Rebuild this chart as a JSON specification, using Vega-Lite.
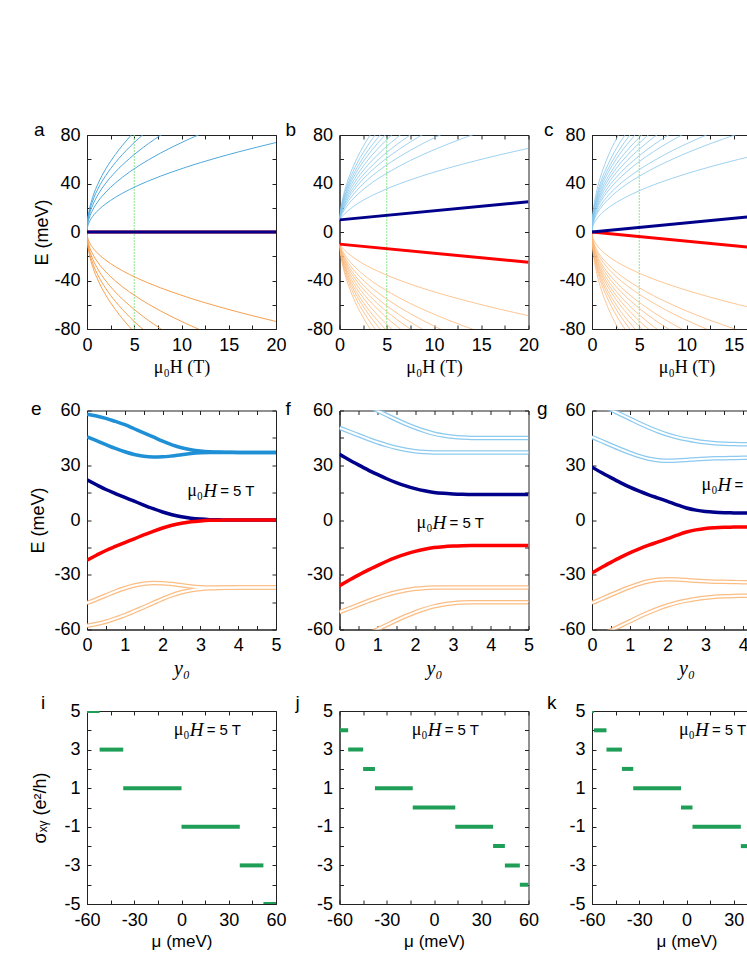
{
"$schema":"https://vega.github.io/schema/vega-lite/v6.json",
"background":"white",
"padding":{"left":29,"top":120,"right":5,"bottom":5},
"datasets":{
"ll":[
{"p":"a","n":0,"x":0,"u":0,"l":0},{"p":"a","n":0,"x":20,"u":0,"l":0},
{"p":"a","n":1,"x":0,"u":0,"l":0},{"p":"a","n":1,"x":0.05,"u":3.7,"l":-3.7},{"p":"a","n":1,"x":0.25,"u":8.3,"l":-8.3},{"p":"a","n":1,"x":0.6,"u":12.8,"l":-12.8},{"p":"a","n":1,"x":1.2,"u":18.1,"l":-18.1},{"p":"a","n":1,"x":2,"u":23.3,"l":-23.3},{"p":"a","n":1,"x":3,"u":28.6,"l":-28.6},{"p":"a","n":1,"x":4.5,"u":35,"l":-35},{"p":"a","n":1,"x":6.5,"u":42.1,"l":-42.1},{"p":"a","n":1,"x":9,"u":49.5,"l":-49.5},{"p":"a","n":1,"x":12,"u":57.2,"l":-57.2},{"p":"a","n":1,"x":16,"u":66,"l":-66},{"p":"a","n":1,"x":20,"u":73.8,"l":-73.8},
{"p":"a","n":2,"x":0,"u":0,"l":0},{"p":"a","n":2,"x":0.05,"u":5.2,"l":-5.2},{"p":"a","n":2,"x":0.25,"u":11.7,"l":-11.7},{"p":"a","n":2,"x":0.6,"u":18.1,"l":-18.1},{"p":"a","n":2,"x":1.2,"u":25.6,"l":-25.6},{"p":"a","n":2,"x":2,"u":33,"l":-33},{"p":"a","n":2,"x":3,"u":40.4,"l":-40.4},{"p":"a","n":2,"x":4.5,"u":49.5,"l":-49.5},{"p":"a","n":2,"x":6.5,"u":59.5,"l":-59.5},{"p":"a","n":2,"x":9,"u":70,"l":-70},{"p":"a","n":2,"x":12,"u":80.8,"l":-80.8},
{"p":"a","n":3,"x":0,"u":0,"l":0},{"p":"a","n":3,"x":0.05,"u":6.4,"l":-6.4},{"p":"a","n":3,"x":0.25,"u":14.3,"l":-14.3},{"p":"a","n":3,"x":0.6,"u":22.1,"l":-22.1},{"p":"a","n":3,"x":1.2,"u":31.3,"l":-31.3},{"p":"a","n":3,"x":2,"u":40.4,"l":-40.4},{"p":"a","n":3,"x":3,"u":49.5,"l":-49.5},{"p":"a","n":3,"x":4.5,"u":60.6,"l":-60.6},{"p":"a","n":3,"x":6.5,"u":72.9,"l":-72.9},{"p":"a","n":3,"x":9,"u":85.7,"l":-85.7},
{"p":"a","n":4,"x":0,"u":0,"l":0},{"p":"a","n":4,"x":0.05,"u":7.4,"l":-7.4},{"p":"a","n":4,"x":0.25,"u":16.5,"l":-16.5},{"p":"a","n":4,"x":0.6,"u":25.6,"l":-25.6},{"p":"a","n":4,"x":1.2,"u":36.2,"l":-36.2},{"p":"a","n":4,"x":2,"u":46.7,"l":-46.7},{"p":"a","n":4,"x":3,"u":57.2,"l":-57.2},{"p":"a","n":4,"x":4.5,"u":70,"l":-70},{"p":"a","n":4,"x":6.5,"u":84.1,"l":-84.1},
{"p":"a","n":5,"x":0,"u":0,"l":0},{"p":"a","n":5,"x":0.05,"u":8.3,"l":-8.3},{"p":"a","n":5,"x":0.25,"u":18.5,"l":-18.5},{"p":"a","n":5,"x":0.6,"u":28.6,"l":-28.6},{"p":"a","n":5,"x":1.2,"u":40.4,"l":-40.4},{"p":"a","n":5,"x":2,"u":52.2,"l":-52.2},{"p":"a","n":5,"x":3,"u":63.9,"l":-63.9},{"p":"a","n":5,"x":4.5,"u":78.3,"l":-78.3},{"p":"a","n":5,"x":6.5,"u":94.1,"l":-94.1},
{"p":"b","n":0,"x":0,"u":10,"l":-10},{"p":"b","n":0,"x":20,"u":25,"l":-25},
{"p":"b","n":1,"x":0,"u":10,"l":-10},{"p":"b","n":1,"x":0.1,"u":11.1,"l":-11.1},{"p":"b","n":1,"x":0.3,"u":13,"l":-13},{"p":"b","n":1,"x":0.6,"u":15.5,"l":-15.5},{"p":"b","n":1,"x":1,"u":18.2,"l":-18.2},{"p":"b","n":1,"x":1.5,"u":21.2,"l":-21.2},{"p":"b","n":1,"x":2.2,"u":24.8,"l":-24.8},{"p":"b","n":1,"x":3,"u":28.3,"l":-28.3},{"p":"b","n":1,"x":4,"u":32.1,"l":-32.1},{"p":"b","n":1,"x":5.5,"u":37.2,"l":-37.2},{"p":"b","n":1,"x":7.5,"u":43,"l":-43},{"p":"b","n":1,"x":10,"u":49.3,"l":-49.3},{"p":"b","n":1,"x":13,"u":55.9,"l":-55.9},{"p":"b","n":1,"x":16.5,"u":62.8,"l":-62.8},{"p":"b","n":1,"x":20,"u":69,"l":-69},
{"p":"b","n":2,"x":0,"u":10,"l":-10},{"p":"b","n":2,"x":0.1,"u":12,"l":-12},{"p":"b","n":2,"x":0.3,"u":15.3,"l":-15.3},{"p":"b","n":2,"x":0.6,"u":19.2,"l":-19.2},{"p":"b","n":2,"x":1,"u":23.5,"l":-23.5},{"p":"b","n":2,"x":1.5,"u":27.8,"l":-27.8},{"p":"b","n":2,"x":2.2,"u":33,"l":-33},{"p":"b","n":2,"x":3,"u":38.1,"l":-38.1},{"p":"b","n":2,"x":4,"u":43.6,"l":-43.6},{"p":"b","n":2,"x":5.5,"u":50.7,"l":-50.7},{"p":"b","n":2,"x":7.5,"u":59,"l":-59},{"p":"b","n":2,"x":10,"u":67.8,"l":-67.8},{"p":"b","n":2,"x":13,"u":77.1,"l":-77.1},{"p":"b","n":2,"x":16.5,"u":86.7,"l":-86.7},
{"p":"b","n":3,"x":0,"u":10,"l":-10},{"p":"b","n":3,"x":0.1,"u":12.6,"l":-12.6},{"p":"b","n":3,"x":0.3,"u":16.7,"l":-16.7},{"p":"b","n":3,"x":0.6,"u":21.3,"l":-21.3},{"p":"b","n":3,"x":1,"u":26.3,"l":-26.3},{"p":"b","n":3,"x":1.5,"u":31.4,"l":-31.4},{"p":"b","n":3,"x":2.2,"u":37.4,"l":-37.4},{"p":"b","n":3,"x":3,"u":43.3,"l":-43.3},{"p":"b","n":3,"x":4,"u":49.7,"l":-49.7},{"p":"b","n":3,"x":5.5,"u":57.9,"l":-57.9},{"p":"b","n":3,"x":7.5,"u":67.4,"l":-67.4},{"p":"b","n":3,"x":10,"u":77.6,"l":-77.6},{"p":"b","n":3,"x":13,"u":88.3,"l":-88.3},
{"p":"b","n":4,"x":0,"u":10,"l":-10},{"p":"b","n":4,"x":0.1,"u":13.1,"l":-13.1},{"p":"b","n":4,"x":0.3,"u":17.8,"l":-17.8},{"p":"b","n":4,"x":0.6,"u":23.1,"l":-23.1},{"p":"b","n":4,"x":1,"u":28.7,"l":-28.7},{"p":"b","n":4,"x":1.5,"u":34.4,"l":-34.4},{"p":"b","n":4,"x":2.2,"u":41.1,"l":-41.1},{"p":"b","n":4,"x":3,"u":47.6,"l":-47.6},{"p":"b","n":4,"x":4,"u":54.7,"l":-54.7},{"p":"b","n":4,"x":5.5,"u":63.8,"l":-63.8},{"p":"b","n":4,"x":7.5,"u":74.3,"l":-74.3},{"p":"b","n":4,"x":10,"u":85.6,"l":-85.6},
{"p":"b","n":5,"x":0,"u":10,"l":-10},{"p":"b","n":5,"x":0.1,"u":13.6,"l":-13.6},{"p":"b","n":5,"x":0.3,"u":18.8,"l":-18.8},{"p":"b","n":5,"x":0.6,"u":24.6,"l":-24.6},{"p":"b","n":5,"x":1,"u":30.7,"l":-30.7},{"p":"b","n":5,"x":1.5,"u":36.9,"l":-36.9},{"p":"b","n":5,"x":2.2,"u":44.2,"l":-44.2},{"p":"b","n":5,"x":3,"u":51.3,"l":-51.3},{"p":"b","n":5,"x":4,"u":58.9,"l":-58.9},{"p":"b","n":5,"x":5.5,"u":68.8,"l":-68.8},{"p":"b","n":5,"x":7.5,"u":80.1,"l":-80.1},{"p":"b","n":5,"x":10,"u":92.4,"l":-92.4},
{"p":"b","n":6,"x":0,"u":10,"l":-10},{"p":"b","n":6,"x":0.1,"u":14.1,"l":-14.1},{"p":"b","n":6,"x":0.3,"u":19.9,"l":-19.9},{"p":"b","n":6,"x":0.6,"u":26.2,"l":-26.2},{"p":"b","n":6,"x":1,"u":32.9,"l":-32.9},{"p":"b","n":6,"x":1.5,"u":39.6,"l":-39.6},{"p":"b","n":6,"x":2.2,"u":47.5,"l":-47.5},{"p":"b","n":6,"x":3,"u":55.2,"l":-55.2},{"p":"b","n":6,"x":4,"u":63.4,"l":-63.4},{"p":"b","n":6,"x":5.5,"u":74.1,"l":-74.1},{"p":"b","n":6,"x":7.5,"u":86.4,"l":-86.4},
{"p":"b","n":7,"x":0,"u":10,"l":-10},{"p":"b","n":7,"x":0.1,"u":14.6,"l":-14.6},{"p":"b","n":7,"x":0.3,"u":21,"l":-21},{"p":"b","n":7,"x":0.6,"u":28,"l":-28},{"p":"b","n":7,"x":1,"u":35.2,"l":-35.2},{"p":"b","n":7,"x":1.5,"u":42.5,"l":-42.5},{"p":"b","n":7,"x":2.2,"u":51,"l":-51},{"p":"b","n":7,"x":3,"u":59.3,"l":-59.3},{"p":"b","n":7,"x":4,"u":68.2,"l":-68.2},{"p":"b","n":7,"x":5.5,"u":79.8,"l":-79.8},{"p":"b","n":7,"x":7.5,"u":93,"l":-93},
{"p":"b","n":8,"x":0,"u":10,"l":-10},{"p":"b","n":8,"x":0.1,"u":15.2,"l":-15.2},{"p":"b","n":8,"x":0.3,"u":22.2,"l":-22.2},{"p":"b","n":8,"x":0.6,"u":29.7,"l":-29.7},{"p":"b","n":8,"x":1,"u":37.5,"l":-37.5},{"p":"b","n":8,"x":1.5,"u":45.3,"l":-45.3},{"p":"b","n":8,"x":2.2,"u":54.5,"l":-54.5},{"p":"b","n":8,"x":3,"u":63.3,"l":-63.3},{"p":"b","n":8,"x":4,"u":72.9,"l":-72.9},{"p":"b","n":8,"x":5.5,"u":85.3,"l":-85.3},
{"p":"b","n":9,"x":0,"u":10,"l":-10},{"p":"b","n":9,"x":0.1,"u":15.7,"l":-15.7},{"p":"b","n":9,"x":0.3,"u":23.2,"l":-23.2},{"p":"b","n":9,"x":0.6,"u":31.3,"l":-31.3},{"p":"b","n":9,"x":1,"u":39.6,"l":-39.6},{"p":"b","n":9,"x":1.5,"u":47.9,"l":-47.9},{"p":"b","n":9,"x":2.2,"u":57.6,"l":-57.6},{"p":"b","n":9,"x":3,"u":67,"l":-67},{"p":"b","n":9,"x":4,"u":77.2,"l":-77.2},{"p":"b","n":9,"x":5.5,"u":90.3,"l":-90.3},
{"p":"b","n":10,"x":0,"u":10,"l":-10},{"p":"b","n":10,"x":0.1,"u":16.3,"l":-16.3},{"p":"b","n":10,"x":0.3,"u":24.5,"l":-24.5},{"p":"b","n":10,"x":0.6,"u":33.2,"l":-33.2},{"p":"b","n":10,"x":1,"u":42.1,"l":-42.1},{"p":"b","n":10,"x":1.5,"u":51.1,"l":-51.1},{"p":"b","n":10,"x":2.2,"u":61.5,"l":-61.5},{"p":"b","n":10,"x":3,"u":71.5,"l":-71.5},{"p":"b","n":10,"x":4,"u":82.4,"l":-82.4},
{"p":"b","n":11,"x":0,"u":10,"l":-10},{"p":"b","n":11,"x":0.1,"u":17.2,"l":-17.2},{"p":"b","n":11,"x":0.3,"u":26.1,"l":-26.1},{"p":"b","n":11,"x":0.6,"u":35.6,"l":-35.6},{"p":"b","n":11,"x":1,"u":45.2,"l":-45.2},{"p":"b","n":11,"x":1.5,"u":54.9,"l":-54.9},{"p":"b","n":11,"x":2.2,"u":66.2,"l":-66.2},{"p":"b","n":11,"x":3,"u":77,"l":-77},{"p":"b","n":11,"x":4,"u":88.7,"l":-88.7},
{"p":"c","n":0,"x":0,"u":0,"l":0},{"p":"c","n":0,"x":20,"u":15,"l":-15},
{"p":"c","n":1,"x":0,"u":0,"l":0},{"p":"c","n":1,"x":0.05,"u":3.4,"l":-3.4},{"p":"c","n":1,"x":0.2,"u":6.8,"l":-6.8},{"p":"c","n":1,"x":0.5,"u":10.7,"l":-10.7},{"p":"c","n":1,"x":1,"u":15.2,"l":-15.2},{"p":"c","n":1,"x":1.7,"u":19.8,"l":-19.8},{"p":"c","n":1,"x":2.6,"u":24.5,"l":-24.5},{"p":"c","n":1,"x":3.7,"u":29.2,"l":-29.2},{"p":"c","n":1,"x":5,"u":34,"l":-34},{"p":"c","n":1,"x":6.5,"u":38.8,"l":-38.8},{"p":"c","n":1,"x":8.5,"u":44.3,"l":-44.3},{"p":"c","n":1,"x":11,"u":50.4,"l":-50.4},{"p":"c","n":1,"x":14,"u":56.9,"l":-56.9},{"p":"c","n":1,"x":17,"u":62.7,"l":-62.7},{"p":"c","n":1,"x":20,"u":68,"l":-68},
{"p":"c","n":2,"x":0,"u":0,"l":0},{"p":"c","n":2,"x":0.05,"u":4.6,"l":-4.6},{"p":"c","n":2,"x":0.2,"u":9.2,"l":-9.2},{"p":"c","n":2,"x":0.5,"u":14.6,"l":-14.6},{"p":"c","n":2,"x":1,"u":20.6,"l":-20.6},{"p":"c","n":2,"x":1.7,"u":26.8,"l":-26.8},{"p":"c","n":2,"x":2.6,"u":33.2,"l":-33.2},{"p":"c","n":2,"x":3.7,"u":39.6,"l":-39.6},{"p":"c","n":2,"x":5,"u":46,"l":-46},{"p":"c","n":2,"x":6.5,"u":52.5,"l":-52.5},{"p":"c","n":2,"x":8.5,"u":60,"l":-60},{"p":"c","n":2,"x":11,"u":68.3,"l":-68.3},{"p":"c","n":2,"x":14,"u":77,"l":-77},{"p":"c","n":2,"x":17,"u":84.9,"l":-84.9},
{"p":"c","n":3,"x":0,"u":0,"l":0},{"p":"c","n":3,"x":0.05,"u":5.1,"l":-5.1},{"p":"c","n":3,"x":0.2,"u":10.3,"l":-10.3},{"p":"c","n":3,"x":0.5,"u":16.3,"l":-16.3},{"p":"c","n":3,"x":1,"u":23,"l":-23},{"p":"c","n":3,"x":1.7,"u":30,"l":-30},{"p":"c","n":3,"x":2.6,"u":37.1,"l":-37.1},{"p":"c","n":3,"x":3.7,"u":44.2,"l":-44.2},{"p":"c","n":3,"x":5,"u":51.4,"l":-51.4},{"p":"c","n":3,"x":6.5,"u":58.6,"l":-58.6},{"p":"c","n":3,"x":8.5,"u":67.1,"l":-67.1},{"p":"c","n":3,"x":11,"u":76.3,"l":-76.3},{"p":"c","n":3,"x":14,"u":86.1,"l":-86.1},
{"p":"c","n":4,"x":0,"u":0,"l":0},{"p":"c","n":4,"x":0.05,"u":5.8,"l":-5.8},{"p":"c","n":4,"x":0.2,"u":11.6,"l":-11.6},{"p":"c","n":4,"x":0.5,"u":18.4,"l":-18.4},{"p":"c","n":4,"x":1,"u":26,"l":-26},{"p":"c","n":4,"x":1.7,"u":33.8,"l":-33.8},{"p":"c","n":4,"x":2.6,"u":41.9,"l":-41.9},{"p":"c","n":4,"x":3.7,"u":49.9,"l":-49.9},{"p":"c","n":4,"x":5,"u":58.1,"l":-58.1},{"p":"c","n":4,"x":6.5,"u":66.2,"l":-66.2},{"p":"c","n":4,"x":8.5,"u":75.7,"l":-75.7},{"p":"c","n":4,"x":11,"u":86.1,"l":-86.1},
{"p":"c","n":5,"x":0,"u":0,"l":0},{"p":"c","n":5,"x":0.05,"u":6.3,"l":-6.3},{"p":"c","n":5,"x":0.2,"u":12.6,"l":-12.6},{"p":"c","n":5,"x":0.5,"u":19.9,"l":-19.9},{"p":"c","n":5,"x":1,"u":28.1,"l":-28.1},{"p":"c","n":5,"x":1.7,"u":36.7,"l":-36.7},{"p":"c","n":5,"x":2.6,"u":45.4,"l":-45.4},{"p":"c","n":5,"x":3.7,"u":54.1,"l":-54.1},{"p":"c","n":5,"x":5,"u":62.9,"l":-62.9},{"p":"c","n":5,"x":6.5,"u":71.8,"l":-71.8},{"p":"c","n":5,"x":8.5,"u":82.1,"l":-82.1},
{"p":"c","n":6,"x":0,"u":0,"l":0},{"p":"c","n":6,"x":0.05,"u":6.8,"l":-6.8},{"p":"c","n":6,"x":0.2,"u":13.7,"l":-13.7},{"p":"c","n":6,"x":0.5,"u":21.6,"l":-21.6},{"p":"c","n":6,"x":1,"u":30.6,"l":-30.6},{"p":"c","n":6,"x":1.7,"u":39.8,"l":-39.8},{"p":"c","n":6,"x":2.6,"u":49.3,"l":-49.3},{"p":"c","n":6,"x":3.7,"u":58.8,"l":-58.8},{"p":"c","n":6,"x":5,"u":68.3,"l":-68.3},{"p":"c","n":6,"x":6.5,"u":77.9,"l":-77.9},{"p":"c","n":6,"x":8.5,"u":89.1,"l":-89.1},
{"p":"c","n":7,"x":0,"u":0,"l":0},{"p":"c","n":7,"x":0.05,"u":7.3,"l":-7.3},{"p":"c","n":7,"x":0.2,"u":14.7,"l":-14.7},{"p":"c","n":7,"x":0.5,"u":23.2,"l":-23.2},{"p":"c","n":7,"x":1,"u":32.8,"l":-32.8},{"p":"c","n":7,"x":1.7,"u":42.7,"l":-42.7},{"p":"c","n":7,"x":2.6,"u":52.8,"l":-52.8},{"p":"c","n":7,"x":3.7,"u":63,"l":-63},{"p":"c","n":7,"x":5,"u":73.3,"l":-73.3},{"p":"c","n":7,"x":6.5,"u":83.6,"l":-83.6},
{"p":"c","n":8,"x":0,"u":0,"l":0},{"p":"c","n":8,"x":0.05,"u":7.8,"l":-7.8},{"p":"c","n":8,"x":0.2,"u":15.6,"l":-15.6},{"p":"c","n":8,"x":0.5,"u":24.7,"l":-24.7},{"p":"c","n":8,"x":1,"u":34.9,"l":-34.9},{"p":"c","n":8,"x":1.7,"u":45.5,"l":-45.5},{"p":"c","n":8,"x":2.6,"u":56.3,"l":-56.3},{"p":"c","n":8,"x":3.7,"u":67.1,"l":-67.1},{"p":"c","n":8,"x":5,"u":78,"l":-78},{"p":"c","n":8,"x":6.5,"u":88.9,"l":-88.9},
{"p":"c","n":9,"x":0,"u":0,"l":0},{"p":"c","n":9,"x":0.05,"u":8.4,"l":-8.4},{"p":"c","n":9,"x":0.2,"u":16.8,"l":-16.8},{"p":"c","n":9,"x":0.5,"u":26.5,"l":-26.5},{"p":"c","n":9,"x":1,"u":37.5,"l":-37.5},{"p":"c","n":9,"x":1.7,"u":48.9,"l":-48.9},{"p":"c","n":9,"x":2.6,"u":60.5,"l":-60.5},{"p":"c","n":9,"x":3.7,"u":72.2,"l":-72.2},{"p":"c","n":9,"x":5,"u":83.9,"l":-83.9},
{"p":"c","n":10,"x":0,"u":0,"l":0},{"p":"c","n":10,"x":0.05,"u":8.9,"l":-8.9},{"p":"c","n":10,"x":0.2,"u":17.8,"l":-17.8},{"p":"c","n":10,"x":0.5,"u":28.2,"l":-28.2},{"p":"c","n":10,"x":1,"u":39.9,"l":-39.9},{"p":"c","n":10,"x":1.7,"u":52,"l":-52},{"p":"c","n":10,"x":2.6,"u":64.3,"l":-64.3},{"p":"c","n":10,"x":3.7,"u":76.8,"l":-76.8},{"p":"c","n":10,"x":5,"u":89.2,"l":-89.2},
{"p":"c","n":11,"x":0,"u":0,"l":0},{"p":"c","n":11,"x":0.05,"u":9.6,"l":-9.6},{"p":"c","n":11,"x":0.2,"u":19.2,"l":-19.2},{"p":"c","n":11,"x":0.5,"u":30.3,"l":-30.3},{"p":"c","n":11,"x":1,"u":42.8,"l":-42.8},{"p":"c","n":11,"x":1.7,"u":55.8,"l":-55.8},{"p":"c","n":11,"x":2.6,"u":69.1,"l":-69.1},{"p":"c","n":11,"x":3.7,"u":82.4,"l":-82.4},
{"p":"c","n":12,"x":0,"u":0,"l":0},{"p":"c","n":12,"x":0.05,"u":10.7,"l":-10.7},{"p":"c","n":12,"x":0.2,"u":21.4,"l":-21.4},{"p":"c","n":12,"x":0.5,"u":33.9,"l":-33.9},{"p":"c","n":12,"x":1,"u":47.9,"l":-47.9},{"p":"c","n":12,"x":1.7,"u":62.5,"l":-62.5},{"p":"c","n":12,"x":2.6,"u":77.2,"l":-77.2},{"p":"c","n":12,"x":3.7,"u":92.1,"l":-92.1}
],
"edge":[
{"p":"e","x":0,"u1":58,"u2":45.5,"db":22,"rd":-22,"o1":-45.5,"o2":-58},
{"p":"e","x":0.25,"u1":57,"u2":43.5,"db":19.3,"rd":-19.3,"o1":-43.5,"o2":-57},
{"p":"e","x":0.5,"u1":55.7,"u2":41.3,"db":16.7,"rd":-16.7,"o1":-41.3,"o2":-55.7},
{"p":"e","x":0.75,"u1":54,"u2":39.2,"db":14.5,"rd":-14.5,"o1":-39.2,"o2":-54},
{"p":"e","x":1,"u1":52.2,"u2":37.4,"db":12.4,"rd":-12.4,"o1":-37.4,"o2":-52.2},
{"p":"e","x":1.25,"u1":50,"u2":35.9,"db":10.3,"rd":-10.3,"o1":-35.9,"o2":-50},
{"p":"e","x":1.5,"u1":47.8,"u2":34.9,"db":8.2,"rd":-8.2,"o1":-34.9,"o2":-47.8},
{"p":"e","x":1.75,"u1":45.5,"u2":34.5,"db":6.2,"rd":-6.2,"o1":-34.5,"o2":-45.5},
{"p":"e","x":2,"u1":43.2,"u2":34.6,"db":4.4,"rd":-4.4,"o1":-34.6,"o2":-43.2},
{"p":"e","x":2.25,"u1":41.2,"u2":35.1,"db":2.9,"rd":-2.9,"o1":-35.1,"o2":-41.2},
{"p":"e","x":2.5,"u1":39.6,"u2":35.8,"db":1.8,"rd":-1.8,"o1":-35.8,"o2":-39.6},
{"p":"e","x":2.75,"u1":38.5,"u2":36.4,"db":1,"rd":-1,"o1":-36.4,"o2":-38.5},
{"p":"e","x":3,"u1":37.8,"u2":36.8,"db":0.5,"rd":-0.5,"o1":-36.8,"o2":-37.8},
{"p":"e","x":3.25,"u1":37.4,"u2":37,"db":0.2,"rd":-0.2,"o1":-37,"o2":-37.4},
{"p":"e","x":3.5,"u1":37.2,"u2":37,"db":0.1,"rd":-0.1,"o1":-37,"o2":-37.2},
{"p":"e","x":3.75,"u1":37.1,"u2":37,"db":0,"rd":0,"o1":-37,"o2":-37.1},
{"p":"e","x":4,"u1":37,"u2":37,"db":0,"rd":0,"o1":-37,"o2":-37},
{"p":"e","x":4.25,"u1":37,"u2":37,"db":0,"rd":0,"o1":-37,"o2":-37},
{"p":"e","x":4.5,"u1":37,"u2":37,"db":0,"rd":0,"o1":-37,"o2":-37},
{"p":"e","x":4.75,"u1":37,"u2":37,"db":0,"rd":0,"o1":-37,"o2":-37},
{"p":"e","x":5,"u1":37,"u2":37,"db":0,"rd":0,"o1":-37,"o2":-37},
{"p":"f","x":0,"u1":70,"u2":50.5,"db":36,"rd":-36,"o1":-50.5,"o2":-70},
{"p":"f","x":0.25,"u1":67.5,"u2":48.5,"db":33,"rd":-33,"o1":-48.5,"o2":-67.5},
{"p":"f","x":0.5,"u1":65,"u2":46.5,"db":30.2,"rd":-30.2,"o1":-46.5,"o2":-65},
{"p":"f","x":0.75,"u1":62.5,"u2":44.5,"db":27.5,"rd":-27.5,"o1":-44.5,"o2":-62.5},
{"p":"f","x":1,"u1":60,"u2":42.6,"db":25,"rd":-25,"o1":-42.6,"o2":-60},
{"p":"f","x":1.25,"u1":57.5,"u2":41,"db":22.6,"rd":-22.6,"o1":-41,"o2":-57.5},
{"p":"f","x":1.5,"u1":55,"u2":39.6,"db":20.5,"rd":-20.5,"o1":-39.6,"o2":-55},
{"p":"f","x":1.75,"u1":52.7,"u2":38.5,"db":18.7,"rd":-18.7,"o1":-38.5,"o2":-52.7},
{"p":"f","x":2,"u1":50.6,"u2":37.7,"db":17.2,"rd":-17.2,"o1":-37.7,"o2":-50.6},
{"p":"f","x":2.25,"u1":48.8,"u2":37.2,"db":16,"rd":-16,"o1":-37.2,"o2":-48.8},
{"p":"f","x":2.5,"u1":47.3,"u2":37,"db":15.1,"rd":-15.1,"o1":-37,"o2":-47.3},
{"p":"f","x":2.75,"u1":46.3,"u2":37,"db":14.6,"rd":-14.6,"o1":-37,"o2":-46.3},
{"p":"f","x":3,"u1":45.6,"u2":37,"db":14.3,"rd":-14.3,"o1":-37,"o2":-45.6},
{"p":"f","x":3.25,"u1":45.2,"u2":37,"db":14.1,"rd":-14.1,"o1":-37,"o2":-45.2},
{"p":"f","x":3.5,"u1":45,"u2":37,"db":14,"rd":-14,"o1":-37,"o2":-45},
{"p":"f","x":3.75,"u1":45,"u2":37,"db":14,"rd":-14,"o1":-37,"o2":-45},
{"p":"f","x":4,"u1":45,"u2":37,"db":14,"rd":-14,"o1":-37,"o2":-45},
{"p":"f","x":4.25,"u1":45,"u2":37,"db":14,"rd":-14,"o1":-37,"o2":-45},
{"p":"f","x":4.5,"u1":45,"u2":37,"db":14,"rd":-14,"o1":-37,"o2":-45},
{"p":"f","x":4.75,"u1":45,"u2":37,"db":14,"rd":-14,"o1":-37,"o2":-45},
{"p":"f","x":5,"u1":45,"u2":37,"db":14,"rd":-14,"o1":-37,"o2":-45},
{"p":"g","x":0,"u1":66,"u2":45.5,"db":29,"rd":-29,"o1":-45.5,"o2":-66},
{"p":"g","x":0.25,"u1":63,"u2":43.3,"db":26,"rd":-26,"o1":-43.3,"o2":-63},
{"p":"g","x":0.5,"u1":60.5,"u2":41,"db":23.2,"rd":-23.2,"o1":-41,"o2":-60.5},
{"p":"g","x":0.75,"u1":58,"u2":38.8,"db":20.5,"rd":-20.5,"o1":-38.8,"o2":-58},
{"p":"g","x":1,"u1":55.5,"u2":36.8,"db":18,"rd":-18,"o1":-36.8,"o2":-55.5},
{"p":"g","x":1.25,"u1":53,"u2":35,"db":15.8,"rd":-15.8,"o1":-35,"o2":-53},
{"p":"g","x":1.5,"u1":50.7,"u2":33.6,"db":13.8,"rd":-13.8,"o1":-33.6,"o2":-50.7},
{"p":"g","x":1.75,"u1":48.6,"u2":32.8,"db":12,"rd":-12,"o1":-32.8,"o2":-48.6},
{"p":"g","x":2,"u1":46.8,"u2":32.5,"db":10.2,"rd":-10.2,"o1":-32.5,"o2":-46.8},
{"p":"g","x":2.25,"u1":45.3,"u2":32.6,"db":8.3,"rd":-8.3,"o1":-32.6,"o2":-45.3},
{"p":"g","x":2.5,"u1":44.2,"u2":32.9,"db":6.6,"rd":-6.6,"o1":-32.9,"o2":-44.2},
{"p":"g","x":2.75,"u1":43.3,"u2":33.3,"db":5.4,"rd":-5.4,"o1":-33.3,"o2":-43.3},
{"p":"g","x":3,"u1":42.6,"u2":33.6,"db":4.6,"rd":-4.6,"o1":-33.6,"o2":-42.6},
{"p":"g","x":3.25,"u1":42.1,"u2":33.8,"db":4.2,"rd":-4.2,"o1":-33.8,"o2":-42.1},
{"p":"g","x":3.5,"u1":41.8,"u2":33.9,"db":4,"rd":-4,"o1":-33.9,"o2":-41.8},
{"p":"g","x":3.75,"u1":41.6,"u2":34,"db":3.9,"rd":-3.9,"o1":-34,"o2":-41.6},
{"p":"g","x":4,"u1":41.5,"u2":34.1,"db":3.8,"rd":-3.8,"o1":-34.1,"o2":-41.5},
{"p":"g","x":4.25,"u1":41.4,"u2":34.1,"db":3.8,"rd":-3.8,"o1":-34.1,"o2":-41.4},
{"p":"g","x":4.5,"u1":41.3,"u2":34.2,"db":3.8,"rd":-3.8,"o1":-34.2,"o2":-41.3},
{"p":"g","x":4.75,"u1":41.2,"u2":34.2,"db":3.8,"rd":-3.8,"o1":-34.2,"o2":-41.2},
{"p":"g","x":5,"u1":41.2,"u2":34.2,"db":3.8,"rd":-3.8,"o1":-34.2,"o2":-41.2}
],
"hall":[
{"p":"i","v":5,"x1":-60,"x2":-52},{"p":"i","v":3,"x1":-52,"x2":-37},{"p":"i","v":1,"x1":-37,"x2":0},{"p":"i","v":-1,"x1":0,"x2":37},{"p":"i","v":-3,"x1":37,"x2":52},{"p":"i","v":-5,"x1":52,"x2":60},
{"p":"j","v":4,"x1":-60,"x2":-54.5},{"p":"j","v":3,"x1":-54.5,"x2":-45},{"p":"j","v":2,"x1":-45,"x2":-37.5},{"p":"j","v":1,"x1":-37.5,"x2":-13.5},{"p":"j","v":0,"x1":-13.5,"x2":13.5},{"p":"j","v":-1,"x1":13.5,"x2":37.5},{"p":"j","v":-2,"x1":37.5,"x2":45},{"p":"j","v":-3,"x1":45,"x2":54.5},{"p":"j","v":-4,"x1":54.5,"x2":60},
{"p":"k","v":5,"x1":-60,"x2":-58.7},{"p":"k","v":4,"x1":-58.7,"x2":-50.8},{"p":"k","v":3,"x1":-50.8,"x2":-41},{"p":"k","v":2,"x1":-41,"x2":-33.8},{"p":"k","v":1,"x1":-33.8,"x2":-3.5},{"p":"k","v":0,"x1":-3.5,"x2":3.8},{"p":"k","v":-1,"x1":3.8,"x2":34.5},{"p":"k","v":-2,"x1":34.5,"x2":41},{"p":"k","v":-3,"x1":41,"x2":50.8},{"p":"k","v":-4,"x1":50.8,"x2":58.7},{"p":"k","v":-5,"x1":58.7,"x2":60}
]
},
"columns":3,
"bounds":"flush",
"align":"each",
"spacing":{"row":81.5,"column":63.5},
"concat":[
{"width":189,"height":194,"title":{"text":"a","dx":-53,"offset":-14},
 "data":{"name":"ll"},
 "layer":[
  {"encoding":{"x":{"field":"x","type":"quantitative","scale":{"domain":[0,20],"nice":false,"zero":false},"axis":{"orient":"bottom","values":[0,2.5,5,7.5,10,12.5,15,17.5,20],"labelExpr":"datum.value % 5 === 0 ? toString(datum.value) : ''","title":"μ₀H (T)","titleFont":"Liberation Serif","titleFontSize":18}},
    "y":{"field":"e","type":"quantitative","scale":{"domain":[-80,80],"nice":false,"zero":false},"axis":{"orient":"left","values":[-80,-60,-40,-20,0,20,40,60,80],"labelExpr":"datum.value % 40 === 0 ? toString(datum.value) : ''","title":"E (meV)","titlePadding":2}}},
   "layer":[
    {"transform":[{"filter":"datum.p === 'a' && datum.n === 1 && datum.u === 0"},{"fold":["u"],"as":["s","e"]}],"mark":{"type":"rule","color":"#8ee68e","strokeWidth":1,"strokeDash":[2,1]},"encoding":{"x":{"datum":5,"type":"quantitative"},"y":{"datum":-80,"type":"quantitative"},"y2":{"datum":80}}},
    {"transform":[{"filter":"datum.p === 'a' && datum.n > 0"},{"fold":["l"],"as":["s","e"]}],"mark":{"type":"line","color":"#f7a04f","strokeWidth":1,"clip":true,"interpolate":"monotone"},"encoding":{"detail":{"field":"n","type":"nominal"}}},
    {"transform":[{"filter":"datum.p === 'a' && datum.n > 0"},{"fold":["u"],"as":["s","e"]}],"mark":{"type":"line","color":"#4fa9dd","strokeWidth":1,"clip":true,"interpolate":"monotone"},"encoding":{"detail":{"field":"n","type":"nominal"}}},
    {"transform":[{"filter":"datum.p === 'a' && datum.n === 0"},{"fold":["l"],"as":["s","e"]}],"mark":{"type":"line","color":"#ff0000","strokeWidth":3,"clip":true},"encoding":{}},
    {"transform":[{"filter":"datum.p === 'a' && datum.n === 0"},{"fold":["u"],"as":["s","e"]}],"mark":{"type":"line","color":"#00008b","strokeWidth":3,"clip":true},"encoding":{}}
   ]},
  {"transform":[{"filter":"datum.p === 'a' && datum.n === 1 && datum.u === 0"},{"fold":["u"],"as":["s","e"]}],"mark":{"type":"point","opacity":0},"encoding":{"x":{"datum":5,"type":"quantitative","scale":{"domain":[0,20],"nice":false,"zero":false},"axis":{"orient":"top","values":[0,2.5,5,7.5,10,12.5,15,17.5,20],"labels":false,"title":null,"domain":false}},"y":{"datum":0,"type":"quantitative","scale":{"domain":[-80,80],"nice":false,"zero":false},"axis":{"orient":"right","values":[-80,-60,-40,-20,0,20,40,60,80],"labels":false,"title":null,"domain":false}}}}
 ]},
{"width":189,"height":194,"title":{"text":"b","dx":-54,"offset":-14},
 "data":{"name":"ll"},
 "layer":[
  {"encoding":{"x":{"field":"x","type":"quantitative","scale":{"domain":[0,20],"nice":false,"zero":false},"axis":{"orient":"bottom","values":[0,2.5,5,7.5,10,12.5,15,17.5,20],"labelExpr":"datum.value % 5 === 0 ? toString(datum.value) : ''","title":"μ₀H (T)","titleFont":"Liberation Serif","titleFontSize":18}},
    "y":{"field":"e","type":"quantitative","scale":{"domain":[-80,80],"nice":false,"zero":false},"axis":{"orient":"left","values":[-80,-60,-40,-20,0,20,40,60,80],"labelExpr":"datum.value % 40 === 0 ? toString(datum.value) : ''","title":null}}},
   "layer":[
    {"transform":[{"filter":"datum.p === 'b' && datum.n === 1 && datum.u === 10"},{"fold":["u"],"as":["s","e"]}],"mark":{"type":"rule","color":"#8ee68e","strokeWidth":1,"strokeDash":[2,1]},"encoding":{"x":{"datum":5,"type":"quantitative"},"y":{"datum":-80,"type":"quantitative"},"y2":{"datum":78}}},
    {"transform":[{"filter":"datum.p === 'b' && datum.n > 0"},{"fold":["l"],"as":["s","e"]}],"mark":{"type":"line","color":"#fbb879","strokeWidth":0.8,"clip":true,"interpolate":"monotone"},"encoding":{"detail":{"field":"n","type":"nominal"}}},
    {"transform":[{"filter":"datum.p === 'b' && datum.n > 0"},{"fold":["u"],"as":["s","e"]}],"mark":{"type":"line","color":"#86c6ec","strokeWidth":0.8,"clip":true,"interpolate":"monotone"},"encoding":{"detail":{"field":"n","type":"nominal"}}},
    {"transform":[{"filter":"datum.p === 'b' && datum.n === 0"},{"fold":["l"],"as":["s","e"]}],"mark":{"type":"line","color":"#ff0000","strokeWidth":3,"clip":true},"encoding":{}},
    {"transform":[{"filter":"datum.p === 'b' && datum.n === 0"},{"fold":["u"],"as":["s","e"]}],"mark":{"type":"line","color":"#00008b","strokeWidth":3,"clip":true},"encoding":{}}
   ]},
  {"transform":[{"filter":"datum.p === 'b' && datum.n === 1 && datum.u === 10"},{"fold":["u"],"as":["s","e"]}],"mark":{"type":"point","opacity":0},"encoding":{"x":{"datum":5,"type":"quantitative","scale":{"domain":[0,20],"nice":false,"zero":false},"axis":{"orient":"top","values":[0,2.5,5,7.5,10,12.5,15,17.5,20],"labels":false,"title":null,"domain":false}},"y":{"datum":0,"type":"quantitative","scale":{"domain":[-80,80],"nice":false,"zero":false},"axis":{"orient":"right","values":[-80,-60,-40,-20,0,20,40,60,80],"labels":false,"title":null,"domain":false}}}}
 ]},
{"width":189,"height":194,"title":{"text":"c","dx":-48,"offset":-14},
 "data":{"name":"ll"},
 "layer":[
  {"encoding":{"x":{"field":"x","type":"quantitative","scale":{"domain":[0,20],"nice":false,"zero":false},"axis":{"orient":"bottom","values":[0,2.5,5,7.5,10,12.5,15,17.5,20],"labelExpr":"datum.value % 5 === 0 ? toString(datum.value) : ''","title":"μ₀H (T)","titleFont":"Liberation Serif","titleFontSize":18}},
    "y":{"field":"e","type":"quantitative","scale":{"domain":[-80,80],"nice":false,"zero":false},"axis":{"orient":"left","values":[-80,-60,-40,-20,0,20,40,60,80],"labelExpr":"datum.value % 40 === 0 ? toString(datum.value) : ''","title":null}}},
   "layer":[
    {"transform":[{"filter":"datum.p === 'c' && datum.n === 1 && datum.u === 0"},{"fold":["u"],"as":["s","e"]}],"mark":{"type":"rule","color":"#8ee68e","strokeWidth":1,"strokeDash":[2,1]},"encoding":{"x":{"datum":5,"type":"quantitative"},"y":{"datum":-80,"type":"quantitative"},"y2":{"datum":80}}},
    {"transform":[{"filter":"datum.p === 'c' && datum.n > 0"},{"fold":["l"],"as":["s","e"]}],"mark":{"type":"line","color":"#fbb879","strokeWidth":0.8,"clip":true,"interpolate":"monotone"},"encoding":{"detail":{"field":"n","type":"nominal"}}},
    {"transform":[{"filter":"datum.p === 'c' && datum.n > 0"},{"fold":["u"],"as":["s","e"]}],"mark":{"type":"line","color":"#86c6ec","strokeWidth":0.8,"clip":true,"interpolate":"monotone"},"encoding":{"detail":{"field":"n","type":"nominal"}}},
    {"transform":[{"filter":"datum.p === 'c' && datum.n === 0"},{"fold":["l"],"as":["s","e"]}],"mark":{"type":"line","color":"#ff0000","strokeWidth":3,"clip":true},"encoding":{}},
    {"transform":[{"filter":"datum.p === 'c' && datum.n === 0"},{"fold":["u"],"as":["s","e"]}],"mark":{"type":"line","color":"#00008b","strokeWidth":3,"clip":true},"encoding":{}}
   ]},
  {"transform":[{"filter":"datum.p === 'c' && datum.n === 1 && datum.u === 0"},{"fold":["u"],"as":["s","e"]}],"mark":{"type":"point","opacity":0},"encoding":{"x":{"datum":5,"type":"quantitative","scale":{"domain":[0,20],"nice":false,"zero":false},"axis":{"orient":"top","values":[0,2.5,5,7.5,10,12.5,15,17.5,20],"labels":false,"title":null,"domain":false}},"y":{"datum":0,"type":"quantitative","scale":{"domain":[-80,80],"nice":false,"zero":false},"axis":{"orient":"right","values":[-80,-60,-40,-20,0,20,40,60,80],"labels":false,"title":null,"domain":false}}}}
 ]},
{"width":189,"height":219,"title":{"text":"e","dx":-56,"offset":-17},
 "data":{"name":"edge"},
 "layer":[
  {"encoding":{"x":{"field":"x","type":"quantitative","scale":{"domain":[0,5],"nice":false,"zero":false},"axis":{"orient":"bottom","values":[0,0.5,1,1.5,2,2.5,3,3.5,4,4.5,5],"labelExpr":"datum.value % 1 === 0 ? toString(datum.value) : ''","title":"y₀","titleFont":"Liberation Serif","titleFontStyle":"italic","titleFontSize":20}},
    "y":{"field":"e","type":"quantitative","scale":{"domain":[-60,60],"nice":false,"zero":false},"axis":{"orient":"left","values":[-60,-45,-30,-15,0,15,30,45,60],"labelExpr":"datum.value % 30 === 0 ? toString(datum.value) : ''","title":"E (meV)","titlePadding":6}}},
   "layer":[
    {"transform":[{"filter":"datum.p === 'e'"},{"fold":["o1","o2"],"as":["s","e"]}],"mark":{"type":"line","color":"#fbbd84","strokeWidth":4.5,"clip":true,"interpolate":"monotone"},"encoding":{"detail":{"field":"s","type":"nominal"}}},
    {"transform":[{"filter":"datum.p === 'e'"},{"fold":["o1","o2"],"as":["s","e"]}],"mark":{"type":"line","color":"#ffffff","strokeWidth":2,"clip":true,"interpolate":"monotone"},"encoding":{"detail":{"field":"s","type":"nominal"}}},
    {"transform":[{"filter":"datum.p === 'e'"},{"fold":["u1","u2"],"as":["s","e"]}],"mark":{"type":"line","color":"#1f8fd6","strokeWidth":3.5,"clip":true,"interpolate":"monotone"},"encoding":{"detail":{"field":"s","type":"nominal"}}},
    {"transform":[{"filter":"datum.p === 'e'"},{"fold":["db"],"as":["s","e"]}],"mark":{"type":"line","color":"#00008b","strokeWidth":3.5,"clip":true,"interpolate":"monotone"},"encoding":{}},
    {"transform":[{"filter":"datum.p === 'e'"},{"fold":["rd"],"as":["s","e"]}],"mark":{"type":"line","color":"#ff0000","strokeWidth":3.5,"clip":true,"interpolate":"monotone"},"encoding":{}},
    {"transform":[{"filter":"datum.p === 'e' && datum.u1 === 58"},{"fold":["u1"],"as":["s","e"]}],"mark":{"type":"text","text":"μ₀","font":"Liberation Serif","fontSize":18,"align":"left","baseline":"middle","color":"#000"},"encoding":{"x":{"datum":2.65,"type":"quantitative"},"y":{"datum":16,"type":"quantitative"}}},
    {"transform":[{"filter":"datum.p === 'e' && datum.u1 === 58"},{"fold":["u1"],"as":["s","e"]}],"mark":{"type":"text","text":"H","font":"Liberation Serif","fontStyle":"italic","fontSize":19,"align":"left","baseline":"middle","dx":16,"color":"#000"},"encoding":{"x":{"datum":2.65,"type":"quantitative"},"y":{"datum":16,"type":"quantitative"}}},
    {"transform":[{"filter":"datum.p === 'e' && datum.u1 === 58"},{"fold":["u1"],"as":["s","e"]}],"mark":{"type":"text","text":"= 5 T","font":"Liberation Sans","fontSize":15,"align":"left","baseline":"middle","dx":33,"color":"#000"},"encoding":{"x":{"datum":2.65,"type":"quantitative"},"y":{"datum":16,"type":"quantitative"}}}
   ]},
  {"transform":[{"filter":"datum.p === 'e' && datum.u1 === 58"},{"fold":["u1"],"as":["s","e"]}],"mark":{"type":"point","opacity":0},"encoding":{"x":{"datum":1,"type":"quantitative","scale":{"domain":[0,5],"nice":false,"zero":false},"axis":{"orient":"top","values":[0,0.5,1,1.5,2,2.5,3,3.5,4,4.5,5],"labels":false,"title":null,"domain":false}},"y":{"datum":0,"type":"quantitative","scale":{"domain":[-60,60],"nice":false,"zero":false},"axis":{"orient":"right","values":[-60,-45,-30,-15,0,15,30,45,60],"labels":false,"title":null,"domain":false}}}}
 ]},
{"width":189,"height":219,"title":{"text":"f","dx":-54,"offset":-17},
 "data":{"name":"edge"},
 "layer":[
  {"encoding":{"x":{"field":"x","type":"quantitative","scale":{"domain":[0,5],"nice":false,"zero":false},"axis":{"orient":"bottom","values":[0,0.5,1,1.5,2,2.5,3,3.5,4,4.5,5],"labelExpr":"datum.value % 1 === 0 ? toString(datum.value) : ''","title":"y₀","titleFont":"Liberation Serif","titleFontStyle":"italic","titleFontSize":20}},
    "y":{"field":"e","type":"quantitative","scale":{"domain":[-60,60],"nice":false,"zero":false},"axis":{"orient":"left","values":[-60,-45,-30,-15,0,15,30,45,60],"labelExpr":"datum.value % 30 === 0 ? toString(datum.value) : ''","title":null}}},
   "layer":[
    {"transform":[{"filter":"datum.p === 'f'"},{"fold":["o1","o2"],"as":["s","e"]}],"mark":{"type":"line","color":"#fbbd84","strokeWidth":4.5,"clip":true,"interpolate":"monotone"},"encoding":{"detail":{"field":"s","type":"nominal"}}},
    {"transform":[{"filter":"datum.p === 'f'"},{"fold":["o1","o2"],"as":["s","e"]}],"mark":{"type":"line","color":"#ffffff","strokeWidth":2,"clip":true,"interpolate":"monotone"},"encoding":{"detail":{"field":"s","type":"nominal"}}},
    {"transform":[{"filter":"datum.p === 'f'"},{"fold":["u1","u2"],"as":["s","e"]}],"mark":{"type":"line","color":"#8ccaef","strokeWidth":4.5,"clip":true,"interpolate":"monotone"},"encoding":{"detail":{"field":"s","type":"nominal"}}},
    {"transform":[{"filter":"datum.p === 'f'"},{"fold":["u1","u2"],"as":["s","e"]}],"mark":{"type":"line","color":"#ffffff","strokeWidth":2,"clip":true,"interpolate":"monotone"},"encoding":{"detail":{"field":"s","type":"nominal"}}},
    {"transform":[{"filter":"datum.p === 'f'"},{"fold":["db"],"as":["s","e"]}],"mark":{"type":"line","color":"#00008b","strokeWidth":3.5,"clip":true,"interpolate":"monotone"},"encoding":{}},
    {"transform":[{"filter":"datum.p === 'f'"},{"fold":["rd"],"as":["s","e"]}],"mark":{"type":"line","color":"#ff0000","strokeWidth":3.5,"clip":true,"interpolate":"monotone"},"encoding":{}},
    {"transform":[{"filter":"datum.p === 'f' && datum.u1 === 70"},{"fold":["u2"],"as":["s","e"]}],"mark":{"type":"text","text":"μ₀","font":"Liberation Serif","fontSize":18,"align":"left","baseline":"middle","color":"#000"},"encoding":{"x":{"datum":2.04,"type":"quantitative"},"y":{"datum":-1.4,"type":"quantitative"}}},
    {"transform":[{"filter":"datum.p === 'f' && datum.u1 === 70"},{"fold":["u2"],"as":["s","e"]}],"mark":{"type":"text","text":"H","font":"Liberation Serif","fontStyle":"italic","fontSize":19,"align":"left","baseline":"middle","dx":16,"color":"#000"},"encoding":{"x":{"datum":2.04,"type":"quantitative"},"y":{"datum":-1.4,"type":"quantitative"}}},
    {"transform":[{"filter":"datum.p === 'f' && datum.u1 === 70"},{"fold":["u2"],"as":["s","e"]}],"mark":{"type":"text","text":"= 5 T","font":"Liberation Sans","fontSize":15,"align":"left","baseline":"middle","dx":33,"color":"#000"},"encoding":{"x":{"datum":2.04,"type":"quantitative"},"y":{"datum":-1.4,"type":"quantitative"}}}
   ]},
  {"transform":[{"filter":"datum.p === 'f' && datum.u1 === 70"},{"fold":["u2"],"as":["s","e"]}],"mark":{"type":"point","opacity":0},"encoding":{"x":{"datum":1,"type":"quantitative","scale":{"domain":[0,5],"nice":false,"zero":false},"axis":{"orient":"top","values":[0,0.5,1,1.5,2,2.5,3,3.5,4,4.5,5],"labels":false,"title":null,"domain":false}},"y":{"datum":0,"type":"quantitative","scale":{"domain":[-60,60],"nice":false,"zero":false},"axis":{"orient":"right","values":[-60,-45,-30,-15,0,15,30,45,60],"labels":false,"title":null,"domain":false}}}}
 ]},
{"width":189,"height":219,"title":{"text":"g","dx":-55,"offset":-17},
 "data":{"name":"edge"},
 "layer":[
  {"encoding":{"x":{"field":"x","type":"quantitative","scale":{"domain":[0,5],"nice":false,"zero":false},"axis":{"orient":"bottom","values":[0,0.5,1,1.5,2,2.5,3,3.5,4,4.5,5],"labelExpr":"datum.value % 1 === 0 ? toString(datum.value) : ''","title":"y₀","titleFont":"Liberation Serif","titleFontStyle":"italic","titleFontSize":20}},
    "y":{"field":"e","type":"quantitative","scale":{"domain":[-60,60],"nice":false,"zero":false},"axis":{"orient":"left","values":[-60,-45,-30,-15,0,15,30,45,60],"labelExpr":"datum.value % 30 === 0 ? toString(datum.value) : ''","title":null}}},
   "layer":[
    {"transform":[{"filter":"datum.p === 'g'"},{"fold":["o1","o2"],"as":["s","e"]}],"mark":{"type":"line","color":"#fbbd84","strokeWidth":4.5,"clip":true,"interpolate":"monotone"},"encoding":{"detail":{"field":"s","type":"nominal"}}},
    {"transform":[{"filter":"datum.p === 'g'"},{"fold":["o1","o2"],"as":["s","e"]}],"mark":{"type":"line","color":"#ffffff","strokeWidth":2,"clip":true,"interpolate":"monotone"},"encoding":{"detail":{"field":"s","type":"nominal"}}},
    {"transform":[{"filter":"datum.p === 'g'"},{"fold":["u1","u2"],"as":["s","e"]}],"mark":{"type":"line","color":"#8ccaef","strokeWidth":4.5,"clip":true,"interpolate":"monotone"},"encoding":{"detail":{"field":"s","type":"nominal"}}},
    {"transform":[{"filter":"datum.p === 'g'"},{"fold":["u1","u2"],"as":["s","e"]}],"mark":{"type":"line","color":"#ffffff","strokeWidth":2,"clip":true,"interpolate":"monotone"},"encoding":{"detail":{"field":"s","type":"nominal"}}},
    {"transform":[{"filter":"datum.p === 'g'"},{"fold":["db"],"as":["s","e"]}],"mark":{"type":"line","color":"#00008b","strokeWidth":3.5,"clip":true,"interpolate":"monotone"},"encoding":{}},
    {"transform":[{"filter":"datum.p === 'g'"},{"fold":["rd"],"as":["s","e"]}],"mark":{"type":"line","color":"#ff0000","strokeWidth":3.5,"clip":true,"interpolate":"monotone"},"encoding":{}},
    {"transform":[{"filter":"datum.p === 'g' && datum.u1 === 66"},{"fold":["u2"],"as":["s","e"]}],"mark":{"type":"text","text":"μ₀","font":"Liberation Serif","fontSize":18,"align":"left","baseline":"middle","color":"#000"},"encoding":{"x":{"datum":2.9,"type":"quantitative"},"y":{"datum":19,"type":"quantitative"}}},
    {"transform":[{"filter":"datum.p === 'g' && datum.u1 === 66"},{"fold":["u2"],"as":["s","e"]}],"mark":{"type":"text","text":"H","font":"Liberation Serif","fontStyle":"italic","fontSize":19,"align":"left","baseline":"middle","dx":16,"color":"#000"},"encoding":{"x":{"datum":2.9,"type":"quantitative"},"y":{"datum":19,"type":"quantitative"}}},
    {"transform":[{"filter":"datum.p === 'g' && datum.u1 === 66"},{"fold":["u2"],"as":["s","e"]}],"mark":{"type":"text","text":"= 5 T","font":"Liberation Sans","fontSize":15,"align":"left","baseline":"middle","dx":33,"color":"#000"},"encoding":{"x":{"datum":2.9,"type":"quantitative"},"y":{"datum":19,"type":"quantitative"}}}
   ]},
  {"transform":[{"filter":"datum.p === 'g' && datum.u1 === 66"},{"fold":["u2"],"as":["s","e"]}],"mark":{"type":"point","opacity":0},"encoding":{"x":{"datum":1,"type":"quantitative","scale":{"domain":[0,5],"nice":false,"zero":false},"axis":{"orient":"top","values":[0,0.5,1,1.5,2,2.5,3,3.5,4,4.5,5],"labels":false,"title":null,"domain":false}},"y":{"datum":0,"type":"quantitative","scale":{"domain":[-60,60],"nice":false,"zero":false},"axis":{"orient":"right","values":[-60,-45,-30,-15,0,15,30,45,60],"labels":false,"title":null,"domain":false}}}}
 ]},
{"width":189,"height":193,"title":{"text":"i","dx":-46,"offset":-11},
 "data":{"name":"hall"},
 "layer":[
  {"encoding":{"x":{"field":"x1","type":"quantitative","scale":{"domain":[-60,60],"nice":false,"zero":false},"axis":{"orient":"bottom","values":[-60,-45,-30,-15,0,15,30,45,60],"labelExpr":"datum.value % 30 === 0 ? toString(datum.value) : ''","title":"μ (meV)","titleFontSize":17}},
    "y":{"field":"v","type":"quantitative","scale":{"domain":[-5,5],"nice":false,"zero":false},"axis":{"orient":"left","values":[-5,-4,-3,-2,-1,0,1,2,3,4,5],"labelExpr":"abs(datum.value) % 2 === 1 ? toString(datum.value) : ''","title":"σₓᵧ (e²/h)","titlePadding":14}}},
   "layer":[
    {"transform":[{"filter":"datum.p === 'i'"}],"mark":{"type":"rule","color":"#1f9e57","strokeWidth":4,"clip":true},"encoding":{"x2":{"field":"x2"}}},
    {"transform":[{"filter":"datum.p === 'i' && datum.v === 1"}],"mark":{"type":"text","text":"μ₀","font":"Liberation Serif","fontSize":18,"align":"left","baseline":"middle","color":"#000"},"encoding":{"x":{"datum":-5,"type":"quantitative"},"y":{"datum":4,"type":"quantitative"}}},
    {"transform":[{"filter":"datum.p === 'i' && datum.v === 1"}],"mark":{"type":"text","text":"H","font":"Liberation Serif","fontStyle":"italic","fontSize":19,"align":"left","baseline":"middle","dx":16,"color":"#000"},"encoding":{"x":{"datum":-5,"type":"quantitative"},"y":{"datum":4,"type":"quantitative"}}},
    {"transform":[{"filter":"datum.p === 'i' && datum.v === 1"}],"mark":{"type":"text","text":"= 5 T","font":"Liberation Sans","fontSize":15,"align":"left","baseline":"middle","dx":33,"color":"#000"},"encoding":{"x":{"datum":-5,"type":"quantitative"},"y":{"datum":4,"type":"quantitative"}}}
   ]},
  {"transform":[{"filter":"datum.p === 'i' && datum.v === 1"}],"mark":{"type":"point","opacity":0},"encoding":{"x":{"datum":0,"type":"quantitative","scale":{"domain":[-60,60],"nice":false,"zero":false},"axis":{"orient":"top","values":[-60,-45,-30,-15,0,15,30,45,60],"labels":false,"title":null,"domain":false}},"y":{"datum":0,"type":"quantitative","scale":{"domain":[-5,5],"nice":false,"zero":false},"axis":{"orient":"right","values":[-5,-4,-3,-2,-1,0,1,2,3,4,5],"labels":false,"title":null,"domain":false}}}}
 ]},
{"width":189,"height":193,"title":{"text":"j","dx":-44,"offset":-11},
 "data":{"name":"hall"},
 "layer":[
  {"encoding":{"x":{"field":"x1","type":"quantitative","scale":{"domain":[-60,60],"nice":false,"zero":false},"axis":{"orient":"bottom","values":[-60,-45,-30,-15,0,15,30,45,60],"labelExpr":"datum.value % 30 === 0 ? toString(datum.value) : ''","title":"μ (meV)","titleFontSize":17}},
    "y":{"field":"v","type":"quantitative","scale":{"domain":[-5,5],"nice":false,"zero":false},"axis":{"orient":"left","values":[-5,-4,-3,-2,-1,0,1,2,3,4,5],"labelExpr":"abs(datum.value) % 2 === 1 ? toString(datum.value) : ''","title":null}}},
   "layer":[
    {"transform":[{"filter":"datum.p === 'j'"}],"mark":{"type":"rule","color":"#1f9e57","strokeWidth":4,"clip":true},"encoding":{"x2":{"field":"x2"}}},
    {"transform":[{"filter":"datum.p === 'j' && datum.v === 1"}],"mark":{"type":"text","text":"μ₀","font":"Liberation Serif","fontSize":18,"align":"left","baseline":"middle","color":"#000"},"encoding":{"x":{"datum":-14.2,"type":"quantitative"},"y":{"datum":4,"type":"quantitative"}}},
    {"transform":[{"filter":"datum.p === 'j' && datum.v === 1"}],"mark":{"type":"text","text":"H","font":"Liberation Serif","fontStyle":"italic","fontSize":19,"align":"left","baseline":"middle","dx":16,"color":"#000"},"encoding":{"x":{"datum":-14.2,"type":"quantitative"},"y":{"datum":4,"type":"quantitative"}}},
    {"transform":[{"filter":"datum.p === 'j' && datum.v === 1"}],"mark":{"type":"text","text":"= 5 T","font":"Liberation Sans","fontSize":15,"align":"left","baseline":"middle","dx":33,"color":"#000"},"encoding":{"x":{"datum":-14.2,"type":"quantitative"},"y":{"datum":4,"type":"quantitative"}}}
   ]},
  {"transform":[{"filter":"datum.p === 'j' && datum.v === 1"}],"mark":{"type":"point","opacity":0},"encoding":{"x":{"datum":0,"type":"quantitative","scale":{"domain":[-60,60],"nice":false,"zero":false},"axis":{"orient":"top","values":[-60,-45,-30,-15,0,15,30,45,60],"labels":false,"title":null,"domain":false}},"y":{"datum":0,"type":"quantitative","scale":{"domain":[-5,5],"nice":false,"zero":false},"axis":{"orient":"right","values":[-5,-4,-3,-2,-1,0,1,2,3,4,5],"labels":false,"title":null,"domain":false}}}}
 ]},
{"width":189,"height":193,"title":{"text":"k","dx":-45,"offset":-11},
 "data":{"name":"hall"},
 "layer":[
  {"encoding":{"x":{"field":"x1","type":"quantitative","scale":{"domain":[-60,60],"nice":false,"zero":false},"axis":{"orient":"bottom","values":[-60,-45,-30,-15,0,15,30,45,60],"labelExpr":"datum.value % 30 === 0 ? toString(datum.value) : ''","title":"μ (meV)","titleFontSize":17}},
    "y":{"field":"v","type":"quantitative","scale":{"domain":[-5,5],"nice":false,"zero":false},"axis":{"orient":"left","values":[-5,-4,-3,-2,-1,0,1,2,3,4,5],"labelExpr":"abs(datum.value) % 2 === 1 ? toString(datum.value) : ''","title":null}}},
   "layer":[
    {"transform":[{"filter":"datum.p === 'k'"}],"mark":{"type":"rule","color":"#1f9e57","strokeWidth":4,"clip":true},"encoding":{"x2":{"field":"x2"}}},
    {"transform":[{"filter":"datum.p === 'k' && datum.v === 1"}],"mark":{"type":"text","text":"μ₀","font":"Liberation Serif","fontSize":18,"align":"left","baseline":"middle","color":"#000"},"encoding":{"x":{"datum":-4.8,"type":"quantitative"},"y":{"datum":4,"type":"quantitative"}}},
    {"transform":[{"filter":"datum.p === 'k' && datum.v === 1"}],"mark":{"type":"text","text":"H","font":"Liberation Serif","fontStyle":"italic","fontSize":19,"align":"left","baseline":"middle","dx":16,"color":"#000"},"encoding":{"x":{"datum":-4.8,"type":"quantitative"},"y":{"datum":4,"type":"quantitative"}}},
    {"transform":[{"filter":"datum.p === 'k' && datum.v === 1"}],"mark":{"type":"text","text":"= 5 T","font":"Liberation Sans","fontSize":15,"align":"left","baseline":"middle","dx":33,"color":"#000"},"encoding":{"x":{"datum":-4.8,"type":"quantitative"},"y":{"datum":4,"type":"quantitative"}}}
   ]},
  {"transform":[{"filter":"datum.p === 'k' && datum.v === 1"}],"mark":{"type":"point","opacity":0},"encoding":{"x":{"datum":0,"type":"quantitative","scale":{"domain":[-60,60],"nice":false,"zero":false},"axis":{"orient":"top","values":[-60,-45,-30,-15,0,15,30,45,60],"labels":false,"title":null,"domain":false}},"y":{"datum":0,"type":"quantitative","scale":{"domain":[-5,5],"nice":false,"zero":false},"axis":{"orient":"right","values":[-5,-4,-3,-2,-1,0,1,2,3,4,5],"labels":false,"title":null,"domain":false}}}}
 ]}
],
"config":{
 "font":"Liberation Sans",
 "view":{"stroke":"#222","strokeWidth":1},
 "axis":{"labelFont":"Liberation Sans","labelFontSize":18,"labelColor":"#000","tickSize":-4,"tickColor":"#222","tickWidth":1,"domainColor":"#222","domainWidth":1,"labelPadding":11,"grid":false,"labelFlush":false,"labelOverlap":false,"titleFont":"Liberation Sans","titleFontSize":18,"titleFontWeight":"normal","titleColor":"#000","titlePadding":4},
 "title":{"font":"Liberation Sans","fontSize":19,"fontWeight":"normal","anchor":"start","frame":"group","baseline":"alphabetic","color":"#000"}
}
}
